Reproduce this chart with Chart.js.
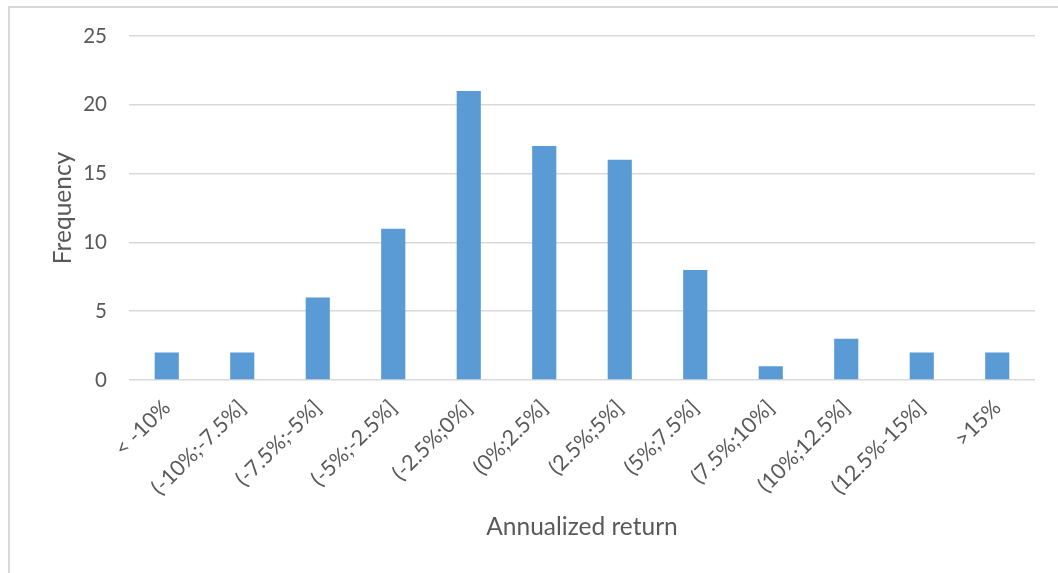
<!DOCTYPE html>
<html>
<head>
<meta charset="utf-8">
<script src="https://cdn.jsdelivr.net/npm/chart.js@4/dist/chart.umd.min.js"></script>
<style>
  html, body { margin: 0; padding: 0; background: #fff; }
  #frame {
    position: absolute; left: 8px; top: 6px; right: -4px; bottom: -4px;
    border-left: 2px solid #d9d9d9; border-top: 2px solid #d9d9d9;
  }
  #wrap { position: absolute; left: 0; top: 0; width: 1058px; height: 573px; }
</style>
</head>
<body>
<div id="frame"></div>
<div id="wrap"><canvas id="chart"></canvas></div>
<script>
// return buckets and how many fall in each
var buckets = ['< -10%', '(-10%;-7.5%]', '(-7.5%;-5%]', '(-5%;-2.5%]', '(-2.5%;0%]', '(0%;2.5%]',
               '(2.5%;5%]', '(5%;7.5%]', '(7.5%;10%]', '(10%;12.5%]', '(12.5%-15%]', '>15%'];
var frequency = [2, 2, 6, 11, 21, 17, 16, 8, 1, 3, 2, 2];
var yTicks = [0, 5, 10, 15, 20, 25];

var textColor = '#595959';
var fontFamily = 'Lato, "Open Sans", sans-serif';

var ctx = document.getElementById('chart').getContext('2d');
var chart = new Chart(ctx, {
  type: 'bar',
  data: {
    labels: buckets,
    datasets: [{
      label: 'Frequency',
      data: frequency,
      backgroundColor: '#5b9bd5',
      borderWidth: 0,
      barPercentage: 0.8,
      categoryPercentage: 0.4
    }]
  },
  options: {
    responsive: true,
    maintainAspectRatio: false,
    animation: false,
    layout: { padding: { left: 48, right: 23, top: 36, bottom: 31 } },
    plugins: { legend: { display: false }, tooltip: { enabled: false } },
    scales: {
      x: {
        grid: { display: false },
        border: { display: false },
        ticks: {
          color: textColor,
          font: { family: fontFamily, size: 21.5 },
          minRotation: 45, maxRotation: 45,
          padding: 7,
          autoSkip: false
        },
        title: {
          display: true, text: 'Annualized return', color: textColor,
          font: { family: fontFamily, size: 24.5 }, padding: 0
        },
        afterFit: function (s) { s.height = 162; }
      },
      y: {
        min: 0, max: 25,
        afterBuildTicks: function (s) { s.ticks = yTicks.map(function (v) { return { value: v }; }); },
        grid: { color: '#d9d9d9', lineWidth: 1.5, drawTicks: false },
        border: { display: false },
        ticks: {
          color: textColor,
          font: { family: fontFamily, size: 20.5 },
          padding: 22
        },
        title: {
          display: true, text: 'Frequency', color: textColor,
          font: { family: fontFamily, size: 24.5 }, padding: 0
        },
        afterFit: function (s) { s.width = 81; }
      }
    }
  }
});
</script>
</body>
</html>
